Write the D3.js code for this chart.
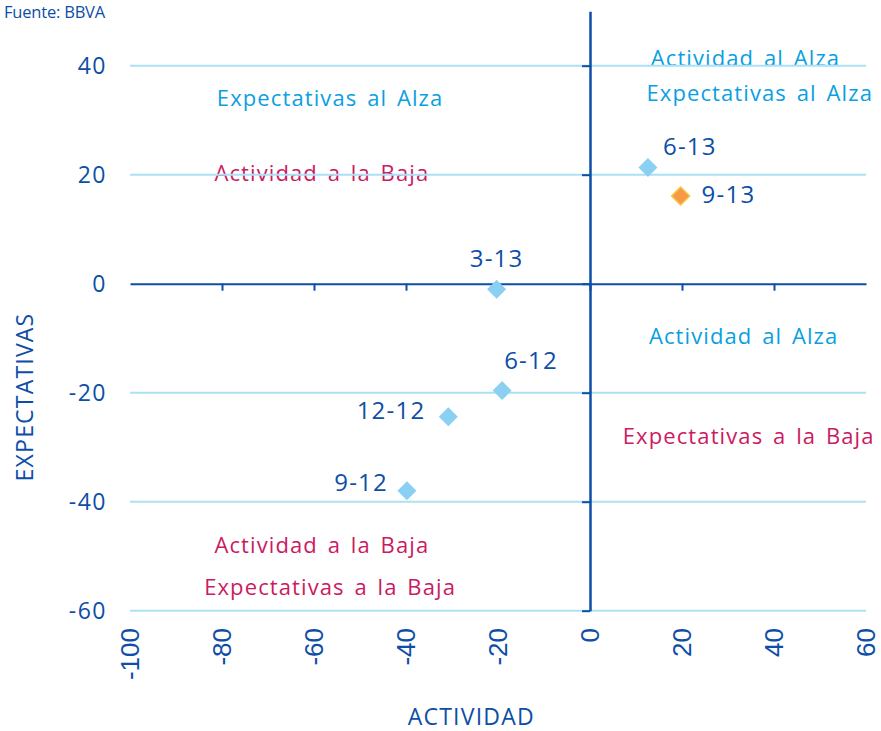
<!DOCTYPE html>
<html>
<head>
<meta charset="utf-8">
<script src="https://cdn.jsdelivr.net/npm/d3@7"></script>
<style>
  body { margin: 0; background: #fff; }
  svg text { font-family: "Open Sans", "Noto Sans", sans-serif; }
</style>
</head>
<body>
<svg id="chart" width="881" height="731"></svg>
<script>
// ---- data ----
const periods = ["9-12", "12-12", "3-13", "6-12", "6-13", "9-13"];
const actividad = [-39.8, -30.8, -20.3, -19.1, 12.6, 19.7];
const expectativas = [-38.0, -24.4, -1.0, -19.6, 21.3, 16.1];
const highlight = [false, false, false, false, false, true];
const xTicks = [-100, -80, -60, -40, -20, 0, 20, 40, 60];
const yTicks = [40, 20, 0, -20, -40, -60];
const gridValues = [40, 20, -20, -40, -60];
const quadrantTexts = ["Expectativas al Alza", "Actividad a la Baja", "Actividad al Alza", "Expectativas al Alza",
  "Actividad al Alza", "Expectativas a la Baja", "Actividad a la Baja", "Expectativas a la Baja"];
const quadrantKinds = ["up", "down", "up", "up", "up", "down", "down", "down"];
const quadrantX = [-56.5, -58.3, 33.8, 36.9, 33.4, 34.5, -58.3, -56.5];
const quadrantY = [32.6, 18.8, 39.9, 33.5, -11.0, -29.4, -49.4, -57.1];

// ---- layout ----
const svg = d3.select("#chart");
const x = d3.scaleLinear().domain([-100, 60]).range([130, 866]);
const y = d3.scaleLinear().domain([-60, 50]).range([610.7, 11.2]);
const darkBlue = "#0d4ea6", gridBlue = "#ade0f5", lightText = "#0a9fe2", magenta = "#cb1a62";
const labelOffsets = {
  "9-12": [-19, 0, "end"], "12-12": [-23, 2, "end"], "3-13": [0, -22, "middle"],
  "6-12": [2, -22, "start"], "6-13": [15, -13, "start"], "9-13": [21, 7, "start"]
};

// source
svg.append("text").attr("x", 4).attr("y", 18).attr("font-size", 16.5)
  .attr("fill", darkBlue).attr("letter-spacing", -0.2)
  .text("Fuente: BBVA");

// quadrant texts
svg.append("g").selectAll("text").data(quadrantTexts).join("text")
  .attr("x", (d, i) => x(quadrantX[i])).attr("y", (d, i) => y(quadrantY[i]))
  .attr("text-anchor", "middle").attr("font-size", 22)
  .attr("letter-spacing", 1.1).attr("word-spacing", 3)
  .attr("fill", (d, i) => quadrantKinds[i] === "up" ? lightText : magenta)
  .text(d => d);

// gridlines
svg.append("g").selectAll("line").data(gridValues).join("line")
  .attr("x1", x(-100)).attr("x2", x(60)).attr("y1", d => y(d)).attr("y2", d => y(d))
  .attr("stroke", gridBlue).attr("stroke-width", 2);

// x axis at y=0 (ticks down, no labels)
const xAxis = svg.append("g").attr("transform", `translate(0,${y(0)})`)
  .call(d3.axisBottom(x).tickValues(xTicks.filter(v => v > -100 && v < 60)).tickSize(7).tickFormat("").tickSizeOuter(0));
xAxis.select(".domain").attr("stroke", darkBlue).attr("stroke-width", 2);
xAxis.selectAll(".tick line").attr("stroke", darkBlue).attr("stroke-width", 2);

// y axis at x=0 (ticks left, no labels)
const yAxis = svg.append("g").attr("transform", `translate(${x(0)},0)`)
  .call(d3.axisLeft(y).tickValues(yTicks).tickSize(8).tickFormat("").tickSizeOuter(0));
yAxis.select(".domain").attr("stroke", darkBlue).attr("stroke-width", 2.5);
yAxis.selectAll(".tick line").attr("stroke", darkBlue).attr("stroke-width", 2);

// y tick labels on left
svg.append("g").selectAll("text").data(yTicks).join("text")
  .attr("x", 107).attr("y", d => y(d)).attr("dy", "0.36em")
  .attr("text-anchor", "end").attr("font-size", 23).attr("letter-spacing", 1.5).attr("fill", darkBlue)
  .text(d => d);

// x tick labels at bottom, rotated
svg.append("g").selectAll("text").data(xTicks).join("text")
  .attr("transform", d => `translate(${x(d)},628) rotate(-90)`)
  .attr("dy", "0.36em").attr("text-anchor", "end").attr("font-size", 26)
  .style("font-family", "'Liberation Sans', Arial, sans-serif")
  .attr("fill", darkBlue).text(d => d);

// axis titles
svg.append("text").attr("x", x(-25.8)).attr("y", 725).attr("text-anchor", "middle")
  .attr("font-size", 23).attr("letter-spacing", 1.2).attr("fill", darkBlue).text("ACTIVIDAD");
svg.append("text").attr("transform", "translate(33,397) rotate(-90)").attr("text-anchor", "middle")
  .attr("font-size", 23).attr("letter-spacing", 1.2).attr("fill", darkBlue).text("EXPECTATIVAS");

// points
const pts = periods.map((p, i) => ({ p, ax: actividad[i], ex: expectativas[i], hl: highlight[i] }));
svg.append("g").selectAll("path").data(pts).join("path")
  .attr("transform", d => `translate(${x(d.ax)},${y(d.ex)})`)
  .attr("d", d => d.hl ? "M0,-9 L9,0 L0,9 L-9,0Z" : "M0,-9.5 L9.5,0 L0,9.5 L-9.5,0Z")
  .attr("fill", d => d.hl ? "#f79a45" : "#8ad0f2")
  .attr("stroke", d => d.hl ? "#fbc244" : "none").attr("stroke-width", 1.5);

// point labels
svg.append("g").selectAll("text").data(pts).join("text")
  .attr("x", d => x(d.ax) + labelOffsets[d.p][0]).attr("y", d => y(d.ex) + labelOffsets[d.p][1])
  .attr("text-anchor", d => labelOffsets[d.p][2]).attr("font-size", 24).attr("letter-spacing", 1.2)
  .attr("fill", darkBlue)
  .text(d => d.p);
</script>
</body>
</html>
